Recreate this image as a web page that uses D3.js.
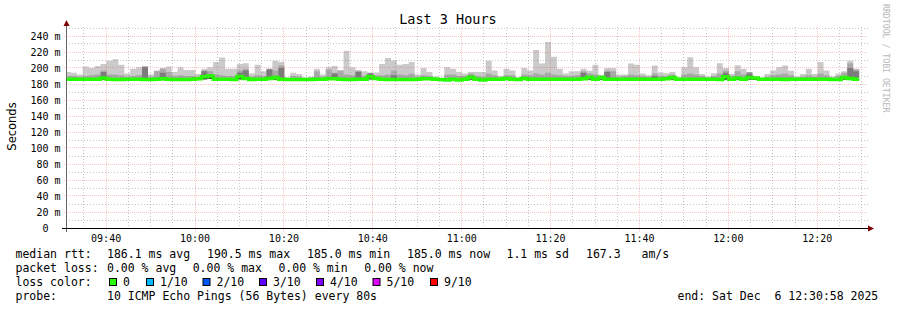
<!DOCTYPE html>
<html><head><meta charset="utf-8">
<script src="https://cdn.jsdelivr.net/npm/d3@7/dist/d3.min.js"></script>
<style>body{margin:0;background:#fff}svg{display:block}text{font-family:"DejaVu Sans Mono",monospace;white-space:pre}</style>
</head><body>
<script>
// ---- data ----
const title = "Last 3 Hours";
const endTime = "2025-12-06T12:30:58Z";
const firstStep = "2025-12-06T09:30:45Z";
const stepSeconds = 80;
const xTickLabels = ["09:40","10:00","10:20","10:40","11:00","11:20","11:40","12:00","12:20"];
const yTickValues = [0,20,40,60,80,100,120,140,160,180,200,220,240];
// per-step ping statistics (ms)
const hi = [195,194,192,202,200,202.5,205,209,211,204, 193,199,201,202.5,192,197,200,202,195,201,
 197.5,197.5,192.5,199,201,207.5,213,199,199,205, 206,193,204,196,199,209,207.5,188,194,192.5,
 188,189,199,192,201,202.5,197,221.5,201,197, 196,194,194.5,205,212.5,209.5,204,205,207.5,192,
 200,195,189.5,187.5,201,199,195,193,195,195, 195,209,197,190,199,197,188,200,197,222.5,
 205.5,232.5,214,199,193,196,196,199,196.5,204, 191.5,200,200,192,192,205.5,204,193,191,203,
 194.5,193.5,195,188.5,201,213.5,201,192.5,189.5,193.5, 206,200,192.5,203.5,199,195,188,187.5,192.5,197,
 201,203,196.5,189.5,192.5,199,192.5,207.5,197,189.5, 193,196,209,199];
const md = [190,190,189,190,191,192,197,192,192,191, 189,190,191,202,189,196,199,195,190,191,
 190,190,189,197,196,192,191,190,190,197, 199,189,191,190,199,197,203,187,190,189,
 187,188,196,189,198,194,197,192,191,197, 190,194,191,191,192,197,192,191,193,189,
 191,190,188,187,192,192,190,190,193,190, 189,193,191,188,191,191,187,192,191,193,
 192,194,192,191,190,190,191,196,193,192, 190,197,196,189,190,192,191,190,189,193,
 190,190,192,187,192,193,192,190,188,190, 193,197,190,196,192,195,187,187,189,191,
 192,193,191,188,189,191,189,193,191,188, 190,194,206,198];
const dk = [187.5,187.5,187.5,187.5,187.5,187.5,195,187.5,187,187, 187.5,187.5,187.5,201,187,187.5,194,187.5,187,187,
 187,187.5,188,196,191.5,187.5,187.5,187.5,187,194, 197,187,187.5,187.5,198,189.5,200,187,187,187,
 187,187,187.5,187.5,188,193,187.5,187,187,195, 187.5,193,188.5,187.5,187,191,187,187,187,187.5,
 188,188,187.5,187,186.5,187.5,186.5,187.5,191,187.5, 186.5,187.5,187.5,187.5,188.5,187.5,187,188.5,187.5,187.5,
 187.5,187.5,187.5,187.5,187.5,187.5,187.5,194,190,187.5, 189.5,195,187.5,187.5,187.5,187.5,187.5,187.5,187.5,190,
 187.5,188,189.5,187.5,187.5,187.5,187.5,187.5,187.5,187.5, 187,194,187.5,189,187.5,193,189,187.5,187.5,187.5,
 187.5,187,187.5,187.5,187.5,187.5,187.5,187.5,187.5,187, 187,189.5,200,196];
const med = [186,186,186,186,186,186,187.5,186,185.5,185.5, 186,186,186,185.5,185.5,186,186.5,186,185.5,185.5,
 185.5,186,186.5,189,190,186,186,186,185.5,189.5, 187,185.5,186,186,187,188,186,185.5,185.5,185.5,
 185.5,185.5,186,186,186.5,186.5,186,185.5,185.5,186, 186,189,187,186,185.5,185.5,185.5,185.5,185.5,186,
 186.5,186.5,186,185.5,185,186,185,186,188.5,186, 185,186,186,186,187,186,185.5,187,186,186,
 186,186,186,186,186,186,186,186.5,188.5,186, 188,186,186,186,186,186,186,186,186,186,
 186,186.5,188,186,186,186,186,186,186,186, 185.5,189,186,187.5,186,188,187.5,186,186,186,
 186,185.5,186,186,186,186,186,186,186,185.5, 185.5,188,187,186];
const lo = [185,185,185,185,185,185,185,185,184.5,184.5, 185,185,185,184.5,184.5,185,185,185,184.5,184.5,
 184.5,185,185,186,186.5,185,185,185,184.5,186, 185,184.5,185,185,185,185.5,185,184.5,184.5,184.5,
 184.5,184.5,185,185,185,185,185,184.5,184.5,185, 185,186,185,185,184.5,184.5,184.5,184.5,184.5,185,
 185,185,185,184.5,184,185,184,185,185.5,185, 184,185,185,185,185,185,184.5,185,185,185,
 185,185,185,185,185,185,185,185,185.5,185, 185.5,185,185,185,185,185,185,185,185,185,
 185,185,185.5,185,185,185,185,185,185,185, 184.5,185.5,185,185,185,185.5,185,185,185,185,
 185,184.5,185,185,185,185,185,185,185,184.5, 184.5,185.5,185,185];
const statsRtt = ["186.1 ms avg","190.5 ms max","185.0 ms min","185.0 ms now","1.1 ms sd","167.3","am/s"];
const statsLoss = ["0.00 % avg","0.00 % max","0.00 % min","0.00 % now"];
const lossLabels = ["0","1/10","2/10","3/10","4/10","5/10","9/10"];
const lossColors = ["#26ff00","#00b8ff","#0059ff","#5e00ff","#7e00ff","#dd00ff","#ff0000"];
const probeText = "10 ICMP Echo Pings (56 Bytes) every 80s";
const endText = "end: Sat Dec  6 12:30:58 2025";

// ---- chart ----
const W = 897, H = 310;
const svg = d3.select("body").append("svg").attr("width", W).attr("height", H);
const tEnd = new Date(endTime), tStart = new Date(+tEnd - 3*3600*1000);
const x = d3.scaleUtc().domain([tStart, tEnd]).range([66, 866]);
const y = d3.scaleLinear().domain([0, 250]).range([228, 28]);
const t0 = +new Date(firstStep);

const pts = hi.map((v, i) => ({t: new Date(t0 + i*stepSeconds*1000), hi: v, md: md[i], dk: dk[i], med: med[i], lo: lo[i]}));
const lastP = pts[pts.length-1];
pts.push(Object.assign({}, lastP, {t: new Date(+lastP.t + stepSeconds*1000)}));

svg.append("defs").append("clipPath").attr("id","plot").append("rect")
  .attr("x", 66).attr("y", 20).attr("width", 800).attr("height", 208);

const g = svg.append("g").attr("clip-path","url(#plot)");
const bands = [["hi","#cacaca"],["md","#a9a9a9"],["dk","#7c7c7c"],["med","#2e2e2e"]];
bands.forEach(([k, c]) => {
  g.append("path").datum(pts).attr("fill", c)
    .attr("d", d3.area().curve(d3.curveStepAfter).x(d => x(d.t)).y0(d => y(d.lo)).y1(d => y(d[k])));
});

// grid
const grid = svg.append("g");
const minorX = x.ticks(d3.utcMinute.every(5)).filter(d => d.getUTCMinutes() % 20 !== 0);
const majorX = x.ticks(d3.utcMinute.every(20));
const px = v => Math.floor(v) + 0.5;
const minorCol = "rgba(120,120,120,0.42)", majorCol = "rgba(235,70,70,0.3)";
grid.selectAll(".vx").data(minorX).join("line")
  .attr("x1", d => px(x(d))).attr("x2", d => px(x(d))).attr("y1", 27).attr("y2", 228)
  .attr("stroke", minorCol).attr("stroke-dasharray", "1,2");
grid.selectAll(".vX").data(majorX).join("line")
  .attr("x1", d => px(x(d))).attr("x2", d => px(x(d))).attr("y1", 27).attr("y2", 232)
  .attr("stroke", majorCol).attr("stroke-dasharray", "1,1");
const minorY = d3.range(10, 251, 20);
grid.selectAll(".hy").data(minorY).join("line")
  .attr("x1", 66).attr("x2", 868).attr("y1", d => px(y(d))).attr("y2", d => px(y(d)))
  .attr("stroke", minorCol).attr("stroke-dasharray", "1,2");
grid.selectAll(".hY").data(yTickValues.filter(v => v > 0)).join("line")
  .attr("x1", 62).attr("x2", 868).attr("y1", d => px(y(d))).attr("y2", d => px(y(d)))
  .attr("stroke", majorCol).attr("stroke-dasharray", "1,1");

// median line
g.append("path").datum(pts).attr("fill","none").attr("stroke", lossColors[0]).attr("stroke-width", 3.5)
  .attr("d", d3.line().curve(d3.curveStepAfter).x(d => x(d.t)).y(d => y(d.med)));

// axes
svg.append("line").attr("x1", 66.5).attr("x2", 66.5).attr("y1", 24).attr("y2", 232).attr("stroke", "#666");
svg.append("line").attr("x1", 62).attr("x2", 869).attr("y1", 228.5).attr("y2", 228.5).attr("stroke", "#000").attr("stroke-width", 1.2);
svg.append("path").attr("d", "M63.5,26 L66.5,20 L69.5,26 Z").attr("fill", "#7f0000");
svg.append("path").attr("d", "M868,225.5 L874,228.5 L868,231.5 Z").attr("fill", "#7f0000");

// y labels
svg.selectAll(".yl").data(yTickValues).join("text")
  .attr("x", 60.5).attr("y", d => y(d) + 4).attr("text-anchor", "end")
  .attr("font-size", 10).attr("fill", "#000")
  .text(d => d === 0 ? "0  " : d + " m");
// x labels
svg.selectAll(".xl").data(majorX).join("text")
  .attr("x", d => x(d)).attr("y", 241.5).attr("text-anchor", "middle")
  .attr("font-size", 10).attr("fill", "#000")
  .text((d, i) => xTickLabels[i]);

// title
svg.append("text").attr("x", 448).attr("y", 24).attr("text-anchor", "middle")
  .attr("font-size", 13.5).text(title);
// y title
svg.append("text").attr("transform", "translate(15.5,126.5) rotate(-90)").attr("text-anchor", "middle")
  .style("font-family", "'DejaVu Sans',sans-serif").attr("font-size", 11.5).text("Seconds");
// watermark
svg.append("text").attr("transform", "translate(883,4) rotate(90)").attr("font-size", 8.2)
  .attr("fill", "#b8b8b8").text("RRDTOOL / TOBI OETIKER");

// legend
const fs = 11.5;
const leg = svg.append("g").attr("font-size", fs);
const line = (yy, items) => items.forEach(([tx, xx]) => leg.append("text").attr("x", xx).attr("y", yy).text(tx));
line(257.5, [["median rtt:", 15.5]].concat(statsRtt.map((s, i) => [s, [107, 207, 307, 407, 506.5, 586, 641.5][i]])));
line(271.5, [["packet loss:", 15.5]].concat(statsLoss.map((s, i) => [s, [107, 192.7, 278.4, 364.2][i]])));
line(285.5, [["loss color:", 15.5]]);
const textX = [123, 160, 216.5, 273, 330, 386.5, 444];
lossLabels.forEach((l, i) => {
  leg.append("rect").attr("x", textX[i] - 13.5).attr("y", 278.5).attr("width", 7).attr("height", 7)
    .attr("fill", lossColors[i]).attr("stroke", "#000").attr("stroke-width", 1);
  leg.append("text").attr("x", textX[i]).attr("y", 285.5).text(l);
});
line(299.5, [["probe:", 15.5], [probeText, 107], [endText, 677.5]]);
</script>
</body></html>
